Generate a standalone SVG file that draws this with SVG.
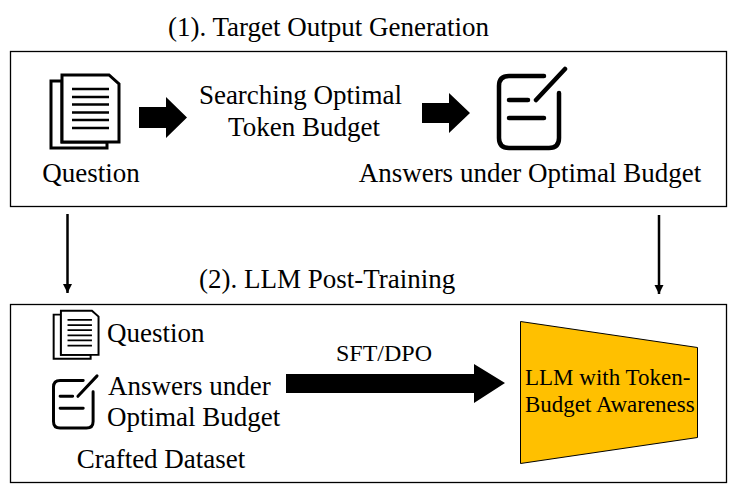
<svg xmlns="http://www.w3.org/2000/svg" width="744" height="496" viewBox="0 0 744 496">
<defs>
<style>
text{font-family:"Liberation Serif","Times New Roman",serif;fill:#000;font-size:27px}
.m{text-anchor:middle}
.s{font-size:23px}
.box{fill:#fff;stroke:#000;stroke-width:1.300}
.doc{fill:#fff;stroke:#000;stroke-width:3;stroke-linejoin:miter}
.pen{fill:none;stroke:#000;stroke-width:4.500;stroke-linecap:round;stroke-linejoin:round}
.conn{stroke:#000;stroke-width:2.500;fill:none}
</style>
<marker id="ah" markerUnits="userSpaceOnUse" markerWidth="10" markerHeight="10" refX="9" refY="5" orient="auto"><path d="M0 0.500L9 5L0 9.500z" fill="#000"/></marker>
<g id="docIcon">
<path class="doc" d="M1 7H12V68H57V74H1z"/>
<path class="doc" d="M12 1H59L69 10V68H12z"/>
<path stroke="#000" stroke-width="2.500" d="M22 15H59M22 23H59M22 30.500H59M22 38.500H59M22 46H59M22 54H59" fill="none"/>
</g>
<g id="penIcon">
<path class="pen" d="M45 0H10Q0 0 0 10V62Q0 72 10 72H50Q60 72 60 62V17"/>
<path class="pen" d="M10 24H29M10 42H45M37 24L66 -7"/>
</g>
</defs>
<rect width="744" height="496" fill="#fff"/>
<g id="panel-1"><rect class="box" x="10.500" y="51.500" width="716" height="155"/></g>
<g id="panel-2"><rect class="box" x="10.500" y="304.500" width="716" height="178"/></g>
<g id="title-1"><text x="168" y="36">(1). Target Output Generation</text></g>
<g id="title-2"><text x="199" y="288">(2). LLM Post-Training</text></g>
<g id="question-top"><use href="#docIcon" x="50" y="74"/><text x="91" y="182" class="m">Question</text></g>
<g id="search"><text x="300.500" y="104" class="m">Searching Optimal</text><text x="304" y="136" class="m">Token Budget</text></g>
<g id="answers-top"><use href="#penIcon" x="499" y="76"/><text x="530" y="182" class="m">Answers under Optimal Budget</text></g>
<g id="question-bottom"><use href="#docIcon" transform="translate(53 310) scale(0.66)"/><text x="107" y="342">Question</text></g>
<g id="answers-bottom"><use href="#penIcon" transform="translate(53.500 380.500) scale(0.66)"/><text x="108" y="395">Answers under</text><text x="107" y="426">Optimal Budget</text></g>
<g id="dataset"><text x="161" y="468" class="m">Crafted Dataset</text></g>
<g id="llm"><path d="M520.500 321.500L697.500 347.500V437.500L520.500 463.500z" fill="#ffc000" stroke="#000" stroke-width="1"/><text x="525" y="385" class="s">LLM with Token-</text><text x="525" y="412" class="s">Budget Awareness</text></g>
<g id="connectors">
<path d="M139 107H166V97L187 117.500L166 138V128H139z" fill="#000"/>
<path d="M422 103H449V93L470 113L449 133V123H422z" fill="#000"/>
<path d="M286 374H474V364L505 383L474 403V393H286z" fill="#000"/>
<path class="conn" d="M67.500 214V293" marker-end="url(#ah)"/>
<path class="conn" d="M659 215V294" marker-end="url(#ah)"/>
</g>
<g id="sft-label"><text x="384" y="361" class="m" style="font-size:24px">SFT/DPO</text></g>
</svg>
